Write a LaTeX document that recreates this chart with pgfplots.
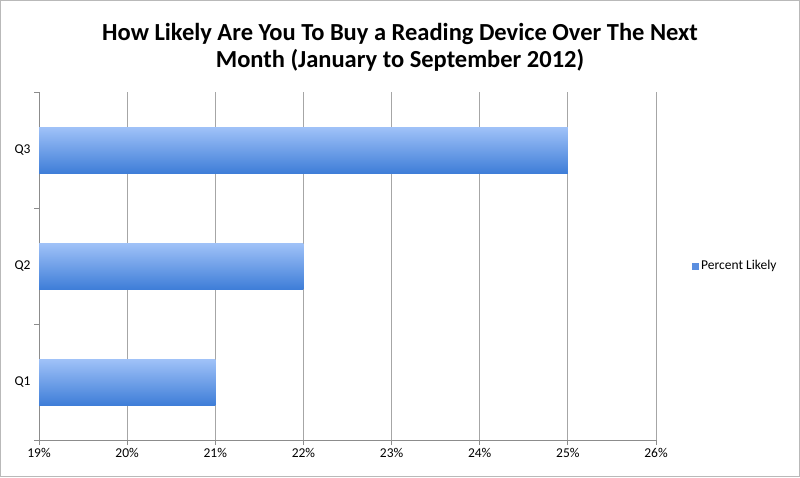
\documentclass[border=0pt]{standalone}
\usepackage{pgfplots}
\pgfplotsset{compat=1.18}
\usepackage{fontspec}
\setmainfont{Carlito}
\definecolor{gridgray}{HTML}{A6A6A6}
\definecolor{axisgray}{HTML}{8C8C8C}
\definecolor{bartop}{HTML}{A0C2F8}
\definecolor{barbot}{HTML}{3F7ED8}
\definecolor{legblue}{HTML}{5B8FE0}
\begin{document}
\begin{tikzpicture}[x=1pt,y=1pt]
\draw[gray!55, line width=1pt] (0.5,0.5) rectangle (799.5,476.5);
\node[font=\bfseries\fontsize{24.5}{27}\selectfont, align=center] at (400,430) {How Likely Are You To Buy a Reading Device Over The Next\\Month (January to September 2012)};
\begin{axis}[
  at={(39pt,37pt)}, anchor=south west,
  scale only axis, width=617pt, height=348pt,
  xbar, bar width=46pt, bar shift=0pt,
  xmin=19, xmax=26, ymin=0.5, ymax=3.5,
  axis x line*=bottom, axis y line*=left,
  axis line style={-, draw=axisgray, line width=0.8pt},
  xtick={19,20,21,22,23,24,25,26},
  xticklabel={\pgfmathprintnumber{\tick}\%},
  xmajorgrids, grid style={gridgray, line width=0.9pt},
  ytick={1,2,3}, yticklabels={Q1,Q2,Q3},
  minor ytick={0.5,1.5,2.5,3.5},
  y tick style={draw=none},
  minor y tick style={draw=axisgray, line width=0.8pt},
  x tick style={draw=axisgray, line width=0.8pt},
  tick align=outside, major tick length=5pt, minor tick length=5pt,
  /pgf/number format/assume math mode=true,
  tick label style={font=\fontsize{13.5}{15}\selectfont, text=black},
  legend style={at={(1,0.5)}, anchor=west, xshift=33pt, draw=none, fill=none,
    font=\fontsize{13.5}{15}\selectfont},
  legend image code/.code={\pgfpathrectangle{\pgfpoint{0pt}{-3.5pt}}{\pgfpoint{7pt}{7pt}}\pgfsetfillcolor{legblue}\pgfusepath{fill}},
]
\addplot[draw=none, top color=bartop, bottom color=barbot] coordinates {(21,1)};
\addlegendentry{Percent Likely}
\addplot[draw=none, top color=bartop, bottom color=barbot, forget plot] coordinates {(22,2)};
\addplot[draw=none, top color=bartop, bottom color=barbot, forget plot] coordinates {(25,3)};
\end{axis}
\end{tikzpicture}
\end{document}
